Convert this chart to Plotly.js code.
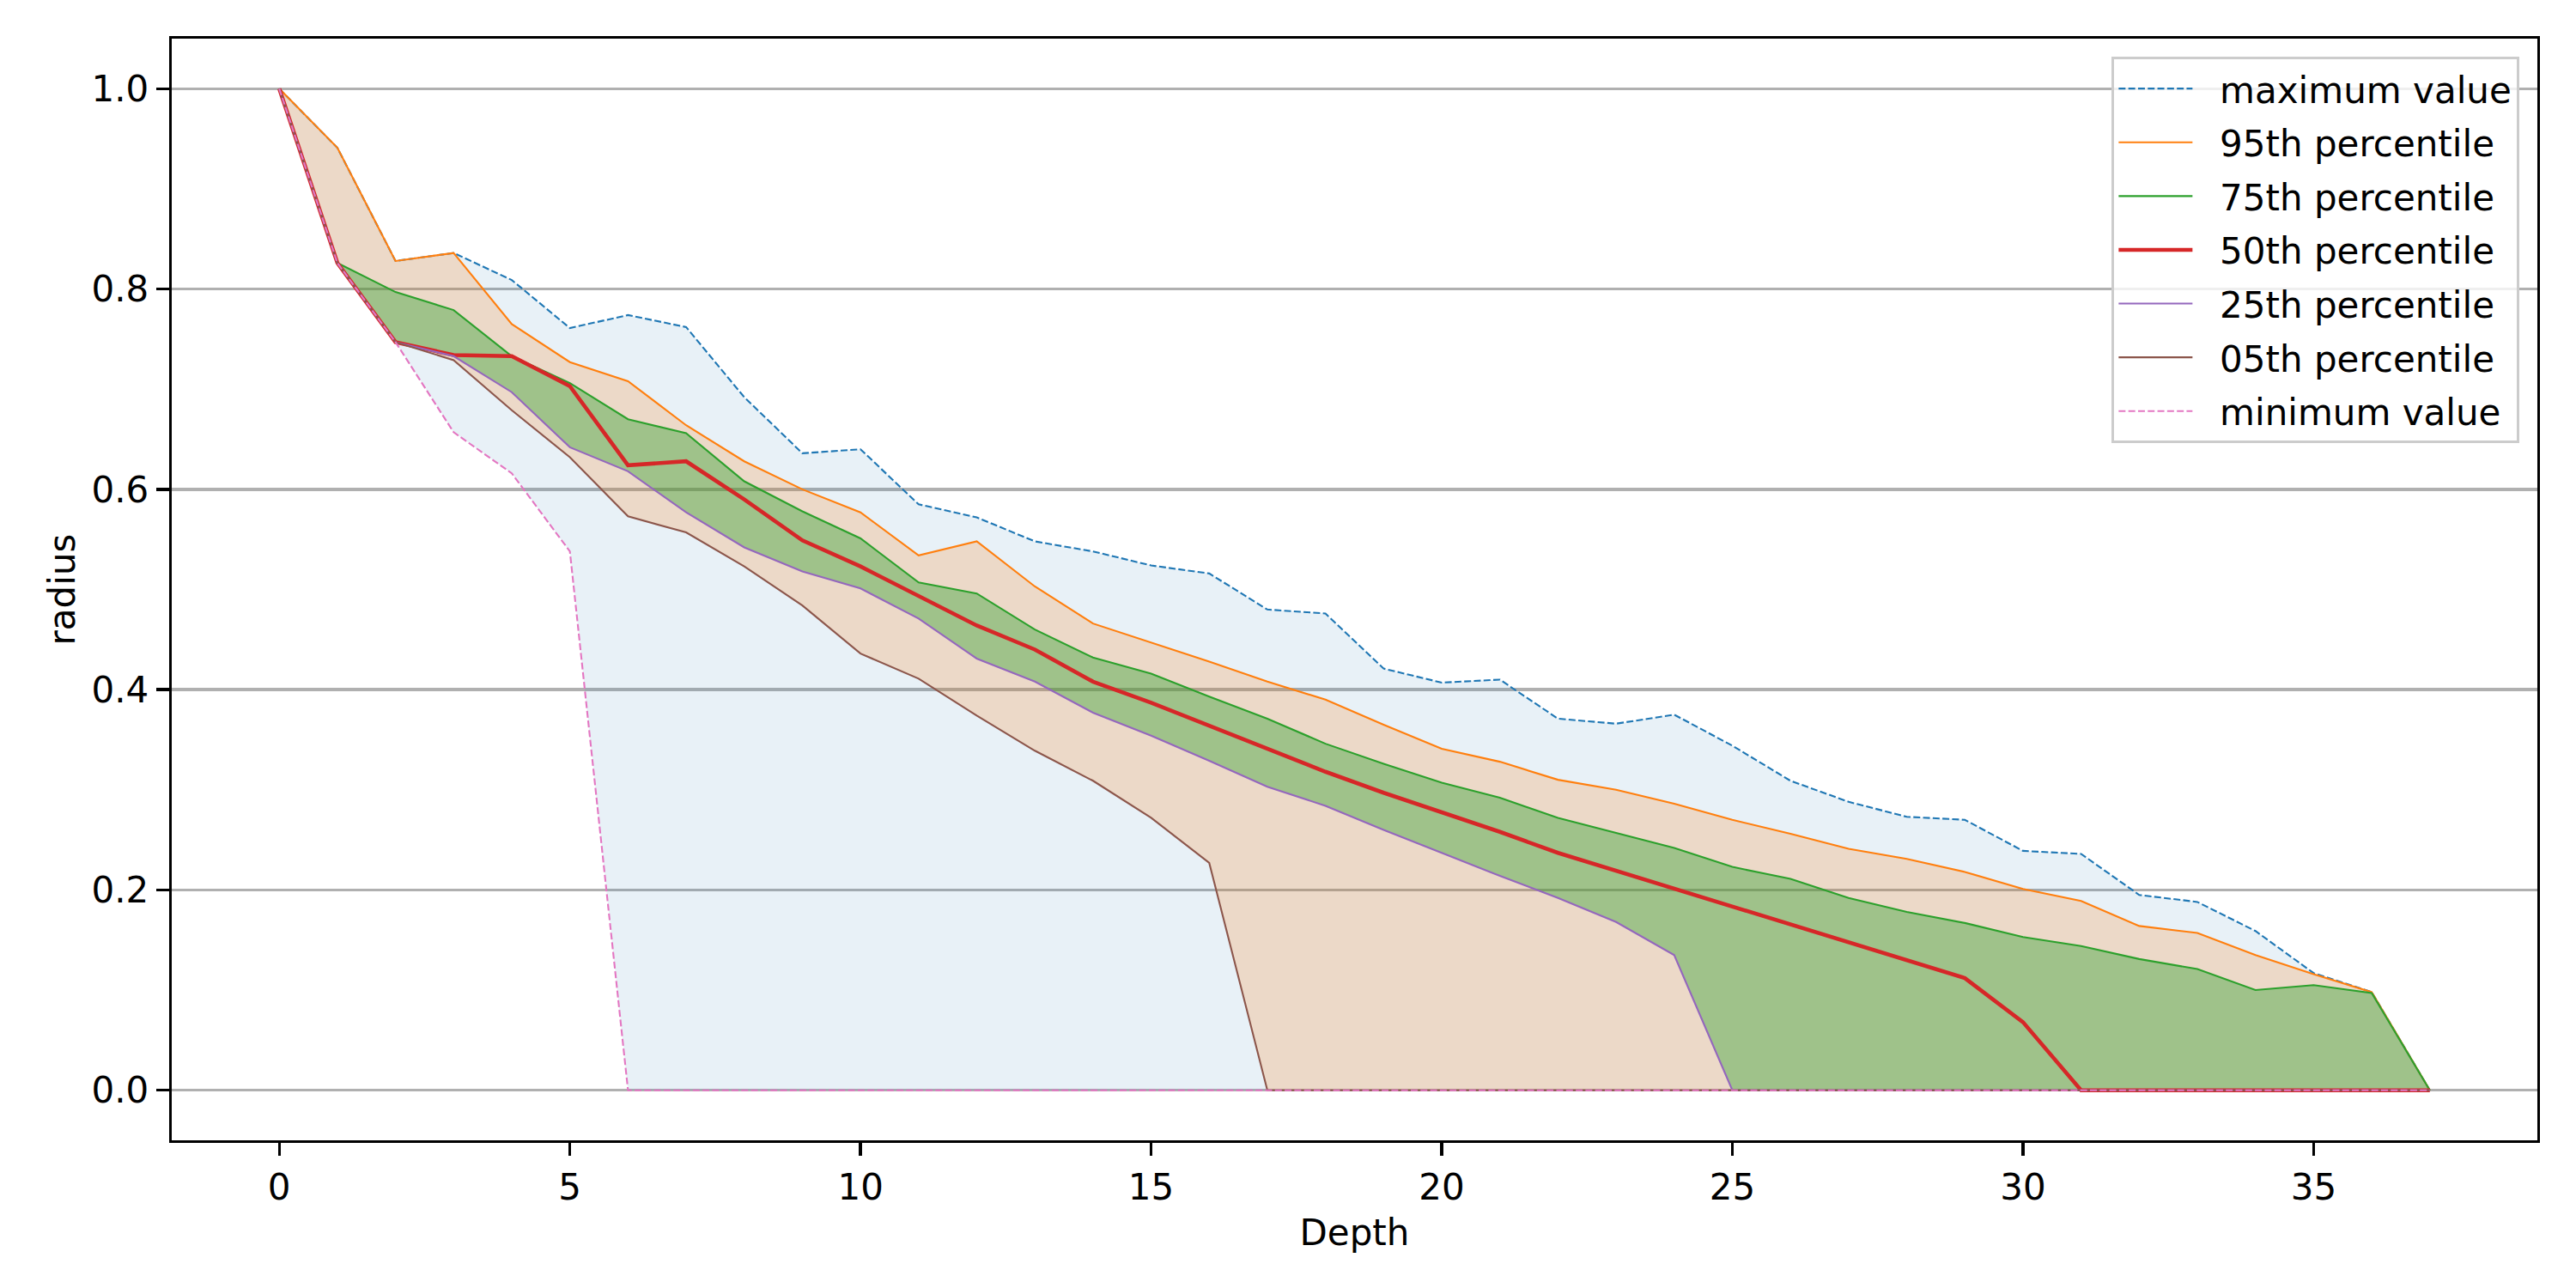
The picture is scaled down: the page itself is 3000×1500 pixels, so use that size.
<!DOCTYPE html>
<html>
<head>
<meta charset="utf-8">
<script src="https://cdn.plot.ly/plotly-3.0.1.min.js"></script>
<style>
  html, body { margin: 0; padding: 0; background: white; }
  #chart { width: 3000px; height: 1500px; }
</style>
</head>
<body>
<div id="chart"></div>
<script>
// depth index and radius percentiles
var depth = []
for (var i = 0; i <= 37; i++) depth.push(i)

var maxValue = [1.0, 0.941, 0.828, 0.836, 0.809, 0.761, 0.774, 0.762, 0.692, 0.636, 0.640, 0.585, 0.572, 0.548, 0.538, 0.524, 0.516, 0.480, 0.476, 0.421, 0.407, 0.410, 0.371, 0.366, 0.375, 0.344, 0.309, 0.288, 0.273, 0.270, 0.239, 0.236, 0.195, 0.188, 0.159, 0.117, 0.098, 0.0]
var p95 = [1.0, 0.941, 0.828, 0.836, 0.765, 0.727, 0.708, 0.664, 0.628, 0.600, 0.577, 0.534, 0.548, 0.503, 0.466, 0.447, 0.428, 0.408, 0.390, 0.365, 0.341, 0.328, 0.310, 0.300, 0.286, 0.270, 0.256, 0.241, 0.231, 0.218, 0.201, 0.189, 0.164, 0.157, 0.135, 0.116, 0.098, 0.0]
var p75 = [1.0, 0.826, 0.797, 0.779, 0.733, 0.706, 0.670, 0.656, 0.608, 0.578, 0.551, 0.507, 0.496, 0.460, 0.432, 0.416, 0.393, 0.371, 0.346, 0.326, 0.307, 0.292, 0.272, 0.257, 0.242, 0.223, 0.211, 0.192, 0.178, 0.167, 0.153, 0.144, 0.131, 0.121, 0.100, 0.105, 0.097, 0.0]
var p50 = [1.0, 0.826, 0.747, 0.734, 0.733, 0.703, 0.624, 0.628, 0.590, 0.549, 0.523, 0.493, 0.464, 0.440, 0.408, 0.387, 0.364, 0.340, 0.318, 0.297, 0.278, 0.258, 0.237, 0.219, 0.201, 0.184, 0.165, 0.147, 0.129, 0.112, 0.068, 0, 0, 0, 0, 0, 0, 0]
var p25 = [1.0, 0.826, 0.747, 0.733, 0.697, 0.642, 0.618, 0.577, 0.542, 0.518, 0.501, 0.471, 0.431, 0.408, 0.377, 0.354, 0.329, 0.303, 0.284, 0.260, 0.237, 0.214, 0.192, 0.168, 0.135, 0, 0, 0, 0, 0, 0, 0, 0, 0, 0, 0, 0, 0]
var p05 = [1.0, 0.826, 0.747, 0.729, 0.679, 0.632, 0.573, 0.557, 0.523, 0.484, 0.436, 0.411, 0.374, 0.339, 0.309, 0.272, 0.227, 0, 0, 0, 0, 0, 0, 0, 0, 0, 0, 0, 0, 0, 0, 0, 0, 0, 0, 0, 0, 0]
var minValue = [1.0, 0.826, 0.747, 0.657, 0.616, 0.538, 0, 0, 0, 0, 0, 0, 0, 0, 0, 0, 0, 0, 0, 0, 0, 0, 0, 0, 0, 0, 0, 0, 0, 0, 0, 0, 0, 0, 0, 0, 0, 0]

var seriesNames = ['maximum value', '95th percentile', '75th percentile', '50th percentile', '25th percentile', '05th percentile', 'minimum value']

function band(lower, upper, color) {
    var lo = {
        x: depth, y: lower, mode: 'lines', line: { width: 0 },
        showlegend: false, hoverinfo: 'skip'
    }
    var hi = {
        x: depth, y: upper, mode: 'lines', line: { width: 0 },
        fill: 'tonexty', fillcolor: color,
        showlegend: false, hoverinfo: 'skip'
    }
    return [lo, hi]
}

function line(y, name, color, width, dash) {
    // two no-break spaces push the label away from the line sample
    return {
        x: depth, y: y, name: '\u00a0\u00a0' + name, mode: 'lines',
        legendgroup: name,
        line: { color: color, width: width, dash: dash || 'solid' }
    }
}

var dashed = '8px,3.3px'
var data = []
data = data.concat(band(minValue, maxValue, 'rgba(31,119,180,0.1)'))
data = data.concat(band(p05, p95, 'rgba(255,127,14,0.2)'))
data = data.concat(band(p25, p75, 'rgba(44,160,44,0.4)'))
data.push(line(maxValue, seriesNames[0], '#1f77b4', 2.1, dashed))
data.push(line(p95, seriesNames[1], '#ff7f0e', 2.1))
data.push(line(p75, seriesNames[2], '#2ca02c', 2.1))
data.push(line(p50, seriesNames[3], '#d62728', 4.6))
data.push(line(p25, seriesNames[4], '#9467bd', 2.1))
data.push(line(p05, seriesNames[5], '#8c564b', 2.1))
data.push(line(minValue, seriesNames[6], '#e377c2', 2.1, dashed))

var font = { family: 'DejaVu Sans, sans-serif', size: 42, color: 'black' }

var layout = {
    width: 3000,
    height: 1500,
    margin: { l: 200, r: 45, t: 45, b: 172, pad: 0 },
    paper_bgcolor: 'white',
    plot_bgcolor: 'white',
    font: font,
    showlegend: true,
    legend: {
        x: 0.9924, y: 0.9836, xanchor: 'right', yanchor: 'top',
        bgcolor: 'rgba(255,255,255,0.8)',
        bordercolor: '#cccccc', borderwidth: 3.3,
        font: font,
        itemwidth: 86,
        tracegroupgap: 5
    },
    xaxis: {
        range: [-1.85, 38.85],
        tickmode: 'linear', tick0: 0, dtick: 5,
        ticks: 'outside', ticklen: 15, tickwidth: 3.3, tickcolor: 'black',
        showline: true, mirror: true, linecolor: 'black', linewidth: 3.3,
        showgrid: false, zeroline: false,
        tickfont: font,
        title: { text: 'Depth', font: font, standoff: 16 }
    },
    yaxis: {
        range: [-0.05, 1.05],
        tickmode: 'linear', tick0: 0, dtick: 0.2, tickformat: '.1f',
        ticks: 'outside', ticklen: 15, tickwidth: 3.3, tickcolor: 'black',
        showline: true, mirror: true, linecolor: 'black', linewidth: 3.3,
        showgrid: true, gridcolor: '#b0b0b0', gridwidth: 3.3,
        zeroline: false,
        tickfont: font,
        title: { text: 'radius', font: font, standoff: 6 }
    }
}

var config = { responsive: false, displayModeBar: false, staticPlot: true }

Plotly.newPlot('chart', data, layout, config)
</script>
</body>
</html>
